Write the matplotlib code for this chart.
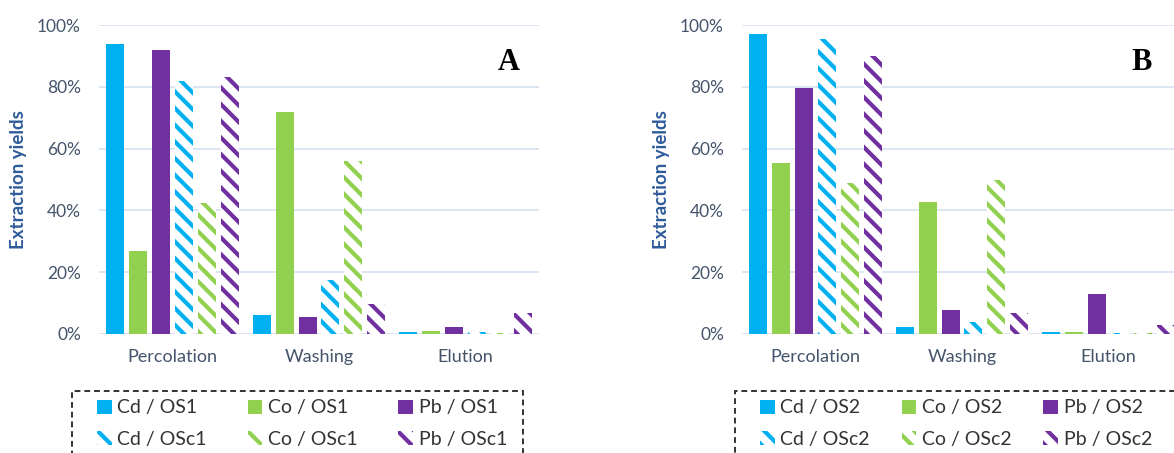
import matplotlib.pyplot as plt
import numpy as np
from matplotlib.patches import Rectangle
from matplotlib.ticker import PercentFormatter

plt.rcParams['font.family'] = ['Lato', 'DejaVu Sans']
plt.rcParams['hatch.linewidth'] = 3.0

categories = ['Percolation', 'Washing', 'Elution']
series = ['Cd', 'Co', 'Pb']
colours = {'Cd': '#00b0f0', 'Co': '#92d050', 'Pb': '#7030a0'}

# panel A (OS1 = plain, OSc1 = hatched), fractions
a_plain = {
	'Cd': [0.94, 0.06, 0.006],
	'Co': [0.27, 0.72, 0.010],
	'Pb': [0.92, 0.055, 0.023],
}
a_hatch = {
	'Cd': [0.82, 0.176, 0.005],
	'Co': [0.423, 0.56, 0.004],
	'Pb': [0.833, 0.097, 0.068],
}

# panel B (OS2 = plain, OSc2 = hatched)
b_plain = {
	'Cd': [0.97, 0.023, 0.006],
	'Co': [0.555, 0.427, 0.005],
	'Pb': [0.795, 0.079, 0.128],
}
b_hatch = {
	'Cd': [0.955, 0.04, 0.003],
	'Co': [0.488, 0.50, 0.003],
	'Pb': [0.90, 0.068, 0.028],
}

text_col = '#44546a'
label_col = '#2e5b9a'
grid_col = '#d6e1f0'

fig = plt.figure(figsize=(11.74, 4.53), dpi=100)
W, H = 1174, 453


def panel(left_px, plain, hatch, tag, tag_x, suffix_p, suffix_h, box_left, leg_left, leg_right):
	ax = fig.add_axes([left_px / W, (H - 334) / H, 440 / W, 309 / H])
	x = np.arange(len(categories))
	width, pitch = 0.123, 0.156
	handles = []
	for k, s in enumerate(series):
		b1 = ax.bar(x + (k - 2.5) * pitch, plain[s], width, color=colours[s], linewidth=0,
		            label=f'{s} / {suffix_p}', zorder=3)
		b2 = ax.bar(x + (k + 3 - 2.5) * pitch, hatch[s], width, facecolor='white',
		            edgecolor=colours[s], hatch='\\\\', linewidth=0,
		            label=f'{s} / {suffix_h}', zorder=3)
		handles += [b1, b2]

	ax.set_xlim(-0.5, 2.5)
	ax.set_ylim(0, 1.0)
	ax.set_yticks(np.arange(0, 1.01, 0.2))
	ax.yaxis.set_major_formatter(PercentFormatter(1.0, decimals=0))
	ax.set_xticks(x)
	ax.set_xticklabels(categories)
	ax.tick_params(axis='both', length=0, labelcolor=text_col)
	ax.tick_params(axis='y', pad=13, labelsize=12.5)
	ax.tick_params(axis='x', pad=11, labelsize=13)
	for sp in ax.spines.values():
		sp.set_visible(False)
	ax.grid(axis='y', color=grid_col, linewidth=1.2, zorder=0)
	ax.set_axisbelow(True)

	ax.set_ylabel('Extraction yields', fontsize=13.5, fontweight='bold', color=label_col)
	ax.yaxis.set_label_coords(-0.164, 0.5)

	ax.text(tag_x, 0.88, tag, transform=ax.transAxes, ha='center', va='center',
	        fontsize=22, fontweight='bold', family='Liberation Serif')

	leg = ax.legend(handles=handles, ncol=3, loc='upper left', mode='expand',
	                bbox_to_anchor=(leg_left / W, 1 - 404 / H, (leg_right - leg_left) / W, 0.01),
	                bbox_transform=fig.transFigure, fontsize=14, frameon=False,
	                handlelength=0.75, handleheight=0.75, handletextpad=0.3,
	                labelspacing=0.75, borderpad=0, borderaxespad=0)
	for t in leg.get_texts():
		t.set_color('#333333')

	# dashed frame round the legend, running off the bottom of the figure
	fig.add_artist(Rectangle((box_left / W, -8 / H), 451 / W, (H - 391 + 8) / H,
	                         transform=fig.transFigure, fill=False, edgecolor='#333333',
	                         linestyle=(0, (3, 2)), linewidth=1.4, clip_on=False))
	return ax


panel(99, a_plain, a_hatch, 'A', 0.932, 'OS1', 'OSc1', 72, 97, 507)
panel(742, b_plain, b_hatch, 'B', 0.909, 'OS2', 'OSc2', 735, 760, 1152)

fig.savefig('out.png', dpi=100)
